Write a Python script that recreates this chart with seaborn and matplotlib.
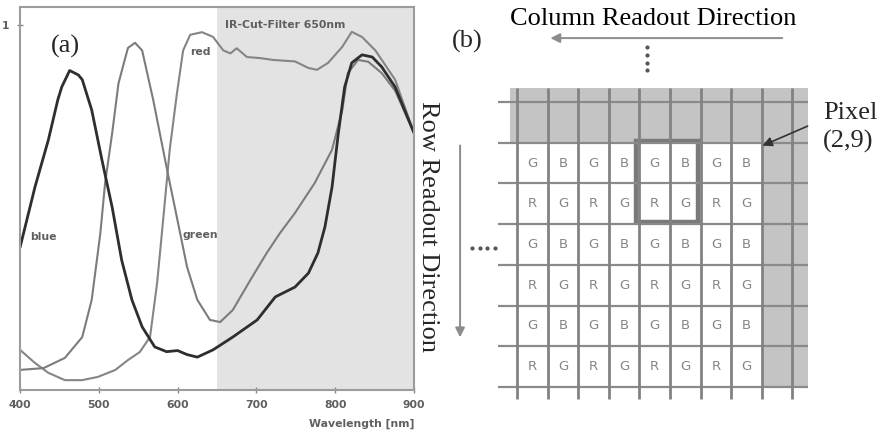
# ==========================================
# SPECTRAL RESPONSE (a) + BAYER READOUT (b)
# ==========================================

import numpy as np
import pandas as pd
import matplotlib
matplotlib.use("Agg")
import matplotlib.pyplot as plt
import seaborn as sns
from matplotlib.patches import Rectangle

# ==========================================
# DATA
# ==========================================

blue_nm = [400, 419, 436, 448, 453, 463, 474, 479, 491, 504, 517, 529, 542,
           555, 571, 586, 600, 612, 625, 645, 670, 701, 724, 749, 766, 778,
           787, 796, 804, 812, 821, 834, 847, 859, 876, 900]
blue_v = [0.39, 0.556, 0.685, 0.795, 0.83, 0.875, 0.863, 0.85, 0.767, 0.63,
          0.50, 0.356, 0.247, 0.173, 0.118, 0.105, 0.108, 0.097, 0.090,
          0.110, 0.145, 0.192, 0.255, 0.282, 0.320, 0.375, 0.447, 0.556,
          0.704, 0.830, 0.896, 0.918, 0.912, 0.885, 0.830, 0.704]

green_nm = [400, 430, 457, 479, 491, 502, 508, 517, 525, 533, 537, 546, 555,
            569, 586, 599, 612, 625, 641, 654, 670, 692, 713, 730, 749, 774,
            796, 809, 816, 829, 842, 859, 876, 900]
green_v = [0.055, 0.06, 0.088, 0.145, 0.247, 0.43, 0.567, 0.704, 0.84, 0.905,
           0.937, 0.951, 0.93, 0.795, 0.61, 0.474, 0.337, 0.247, 0.192,
           0.186, 0.219, 0.30, 0.375, 0.43, 0.485, 0.567, 0.658, 0.767,
           0.868, 0.904, 0.899, 0.868, 0.82, 0.704]

red_nm = [400, 419, 436, 457, 479, 499, 521, 537, 552, 565, 574, 582, 590,
          599, 607, 616, 631, 645, 658, 667, 675, 688, 705, 721, 749, 766,
          777, 791, 809, 821, 834, 851, 876, 900]
red_v = [0.11, 0.074, 0.047, 0.027, 0.027, 0.036, 0.055, 0.082, 0.104, 0.145,
         0.293, 0.474, 0.658, 0.81, 0.93, 0.973, 0.98, 0.967, 0.93, 0.922,
         0.936, 0.912, 0.909, 0.904, 0.90, 0.882, 0.877, 0.896, 0.94, 0.981,
         0.967, 0.93, 0.85, 0.704]

ir_cut_nm = 650
x_ticks = [400, 500, 600, 700, 800, 900]

bayer_rows = ["GBGBGBGB", "RGRGRGRG", "GBGBGBGB",
              "RGRGRGRG", "GBGBGBGB", "RGRGRGRG"]
col_lines = list(range(10))
row_lines = list(range(8))

# ==========================================
# LONG FORMAT TABLE
# ==========================================

spectra = pd.concat([
    pd.DataFrame({"nm": blue_nm, "v": blue_v, "ch": "blue"}),
    pd.DataFrame({"nm": green_nm, "v": green_v, "ch": "green"}),
    pd.DataFrame({"nm": red_nm, "v": red_v, "ch": "red"}),
])

# ==========================================
# FIGURE
# ==========================================

sns.set_theme(style="white")
plt.rcParams["font.family"] = ["DejaVu Sans"]

W, H = 879, 436
fig = plt.figure(figsize=(W / 100, H / 100), dpi=100)


def px_box(x0, y0, x1, y1):
    return [x0 / W, 1 - y1 / H, (x1 - x0) / W, (y1 - y0) / H]


serif = ["Liberation Serif", "DejaVu Serif"]
small = dict(fontsize=7.8, fontweight="bold", color="#5f5f5f")

# ==========================================
# PANEL (a)
# ==========================================

ax = fig.add_axes(px_box(20, 7, 414, 390))
ax.axvspan(ir_cut_nm, 900, color="#e3e3e3", lw=0, zorder=0)

styles = {"blue": ("#2e2e2e", 2.0), "green": ("#7c7c7c", 1.5),
          "red": ("#858585", 1.5)}
for ch in ["red", "green", "blue"]:
    sub = spectra[spectra["ch"] == ch]
    sns.lineplot(data=sub, x="nm", y="v", color=styles[ch][0],
                 linewidth=styles[ch][1], ax=ax, estimator=None)

ax.set_xlim(400, 900)
ax.set_ylim(0, 1.049)
ax.set_xticks(x_ticks)
ax.set_xticklabels([str(t) for t in x_ticks], **small)
ax.set_yticks([1])
ax.set_yticklabels(["1"], **small)
ax.tick_params(axis="both", direction="inout", length=5, width=1,
               color="#888888", pad=5, bottom=True, left=True)
ax.set_xlabel("Wavelength [nm]", loc="right", labelpad=6, **small)
ax.set_ylabel("")
for s in ax.spines.values():
    s.set_color("#9c9c9c")
    s.set_linewidth(1.5)

ax.text(413, 0.42, "blue", ha="left", va="center", **small)
ax.text(606, 0.425, "green", ha="left", va="center", **small)
ax.text(616, 0.926, "red", ha="left", va="center", **small)
ax.text(660, 1.0, "IR-Cut-Filter 650nm", ha="left", va="center", **small)

# ==========================================
# PANEL (b) - units are grid cells
# ==========================================

axb = fig.add_axes([440 / W, 0, 439 / W, 1])
axb.set_xlim(-2.516, 11.83)
axb.set_ylim(8.206, -2.506)
axb.axis("off")

axb.add_patch(Rectangle((-0.23, -0.34), 9.73, 1.34, color="#c4c4c4", lw=0))
axb.add_patch(Rectangle((8, 1), 1.5, 6.0, color="#c4c4c4", lw=0))

axb.hlines(row_lines, -0.62, 9.5, color="#8a8a8a", lw=1.6)
axb.vlines(col_lines, -0.34, 7.3, color="#828282", lw=2.0)

for r, row in enumerate(bayer_rows):
    for c, letter in enumerate(row):
        axb.text(c + 0.5, r + 1.5, letter, ha="center", va="center",
                 fontsize=9.5, color="#858585")

axb.add_patch(Rectangle((3.88, 0.95), 2.04, 2.0, fill=False,
                        ec="#7a7a7a", lw=3.2))

axb.annotate("", xy=(1.0, -1.57), xytext=(8.76, -1.57),
             arrowprops=dict(arrowstyle="-|>", color="#8c8c8c", lw=1.4,
                             mutation_scale=14))
axb.annotate("", xy=(-1.86, 5.85), xytext=(-1.86, 1.0),
             arrowprops=dict(arrowstyle="-|>", color="#8c8c8c", lw=1.4,
                             mutation_scale=14))
axb.annotate("", xy=(7.94, 1.1), xytext=(9.58, 0.565),
             arrowprops=dict(arrowstyle="-|>", color="#333333", lw=1.2,
                             mutation_scale=14))

axb.plot([4.25] * 4, [-1.35, -1.16, -0.97, -0.79], ls="none",
         marker="o", ms=2.0, color="#555555")
axb.plot([-1.47, -1.22, -0.97, -0.72], [3.59] * 4, ls="none",
         marker="o", ms=2.0, color="#555555")

# ==========================================
# FIGURE TEXT
# ==========================================

fig.text(653.5 / W, 1 - 25 / H, "Column Readout Direction", ha="center",
         va="baseline", fontsize=19, family=serif, color="black")
fig.text(65 / W, 1 - 46 / H, "(a)", ha="center", va="center",
         fontsize=19, family=serif)
fig.text(467 / W, 1 - 41 / H, "(b)", ha="center", va="center",
         fontsize=19, family=serif)
fig.text(823 / W, 1 - 119 / H, "Pixel", ha="left", va="baseline",
         fontsize=19, family=serif)
fig.text(823 / W, 1 - 148 / H, "(2,9)", ha="left", va="baseline",
         fontsize=19, family=serif)
fig.text(428 / W, 1 - 226 / H, "Row Readout Direction", ha="center",
         va="center", rotation=270, fontsize=19, family=serif)

fig.savefig("out.png", dpi=100)
